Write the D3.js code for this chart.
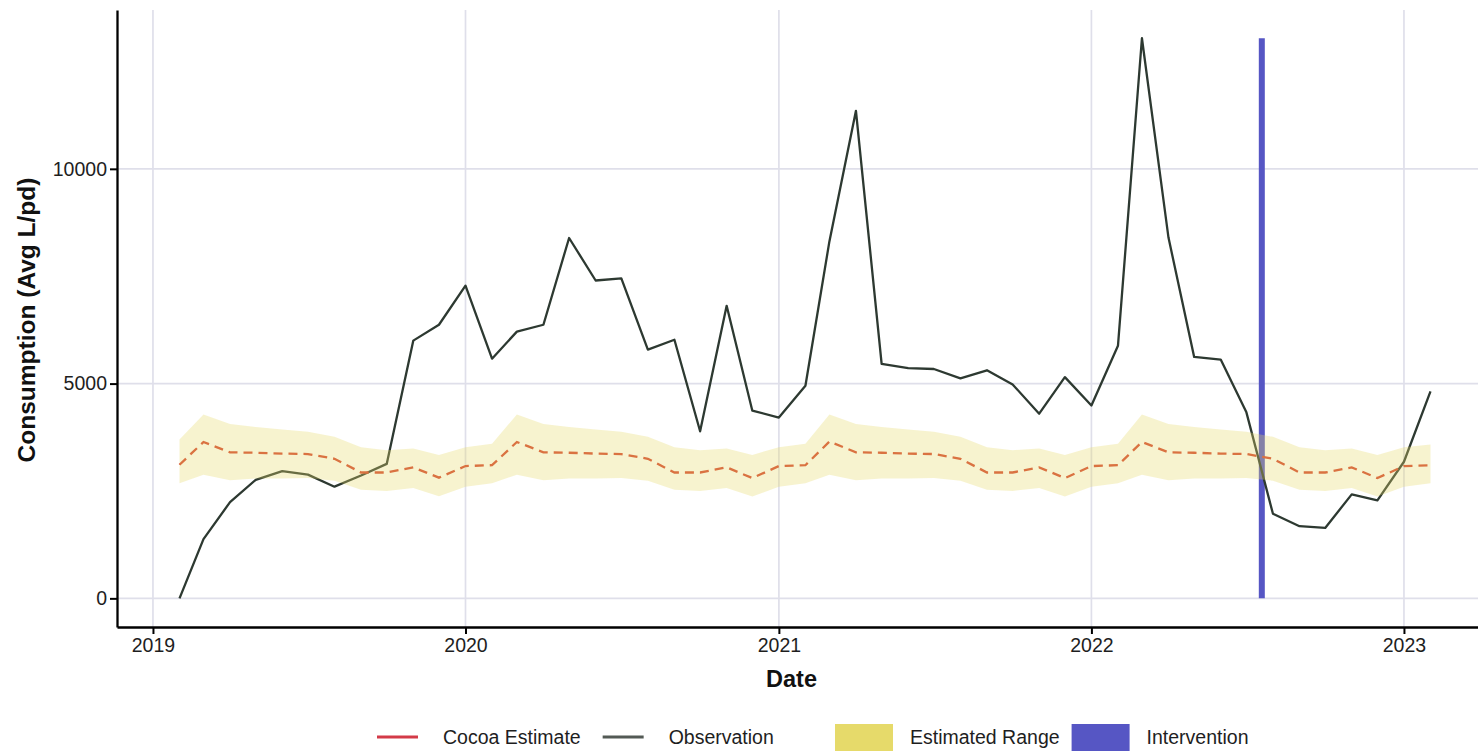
<!DOCTYPE html>
<html>
<head>
<meta charset="utf-8">
<script src="https://cdn.jsdelivr.net/npm/d3@7"></script>
<style>
  body { margin: 0; background: #ffffff; }
  svg { display: block; }
  text { font-family: "Liberation Sans", Arial, Helvetica, sans-serif; }
</style>
</head>
<body>
<svg id="chart" width="1478" height="751"></svg>
<script>
// Monthly series, Feb 2019 – Feb 2023 (49 months)
const firstMonth = new Date(Date.UTC(2019, 1, 1));
const lastMonth = new Date(Date.UTC(2023, 1, 1));

// Observed consumption (Avg L/pd)
const observation = [
  0, 1380, 2240, 2760, 2960, 2880, 2600, 2860, 3130, 6000, 6370,
  7280, 5580, 6210, 6370, 8390, 7400, 7450, 5790, 6020, 3890, 6810, 4370,
  4210, 4950, 8310, 11350, 5460, 5360, 5340, 5120, 5310, 4980, 4300, 5150,
  4490, 5880, 13040, 8400, 5620, 5560, 4330, 1970, 1680, 1640, 2420, 2280,
  3180, 4820
];

// Cocoa model estimate
const estimate = [
  3110, 3640, 3400, 3390, 3370, 3360, 3250, 2930, 2930, 3050, 2810,
  3080, 3100, 3640, 3400, 3390, 3370, 3360, 3250, 2930, 2930, 3050, 2800,
  3080, 3100, 3650, 3400, 3390, 3370, 3360, 3250, 2930, 2930, 3050, 2800,
  3080, 3100, 3640, 3400, 3390, 3370, 3360, 3250, 2930, 2930, 3050, 2800,
  3080, 3100
];

// Estimated range (lower / upper bounds)
const rangeLow = [
  2680, 2880, 2750, 2790, 2790, 2800, 2740, 2530, 2500, 2570, 2380,
  2600, 2680, 2880, 2750, 2790, 2790, 2800, 2740, 2530, 2500, 2570, 2370,
  2600, 2680, 2880, 2750, 2790, 2790, 2800, 2740, 2530, 2500, 2570, 2370,
  2600, 2680, 2880, 2750, 2790, 2790, 2800, 2740, 2530, 2500, 2570, 2370,
  2600, 2680
];
const rangeHigh = [
  3700, 4280, 4060, 3990, 3930, 3880, 3760, 3520, 3450, 3490, 3340,
  3520, 3600, 4280, 4060, 3990, 3930, 3880, 3760, 3520, 3450, 3490, 3340,
  3520, 3600, 4280, 4060, 3990, 3930, 3880, 3760, 3520, 3450, 3490, 3340,
  3520, 3600, 4280, 4060, 3990, 3930, 3880, 3760, 3520, 3450, 3490, 3340,
  3520, 3580
];

const interventionDate = new Date(Date.UTC(2022, 6, 19));
const yTickValues = [0, 5000, 10000];
const xTickYears = [2019, 2020, 2021, 2022, 2023];

const months = d3.utcMonth.range(firstMonth, d3.utcMonth.offset(lastMonth, 1));
const rows = months.map((d, i) => ({
  date: d, obs: observation[i], est: estimate[i], lo: rangeLow[i], hi: rangeHigh[i]
}));

const colors = {
  estimate: "#d4412e",
  estimateKey: "#d33a48",
  observation: "#2d3931",
  observationKey: "#535a55",
  range: "#e6da6a",
  intervention: "#5656c4",
  grid: "#dfdfea",
  axis: "#000000",
  text: "#1e1e1e"
};

const svg = d3.select("#chart");
const W = 1478;
const panel = { left: 117, top: 10, bottom: 627 };

const x = d3.scaleUtc()
  .domain([new Date(Date.UTC(2018, 10, 20)), new Date(Date.UTC(2023, 3, 15))])
  .range([panel.left, 1493]);
const y = d3.scaleLinear()
  .domain([-667, 13698])
  .range([panel.bottom, panel.top]);

const yearDates = xTickYears.map(yr => new Date(Date.UTC(yr, 0, 1)));

// Grid
const grid = svg.append("g");
grid.selectAll("line.h").data(yTickValues).join("line")
  .attr("x1", panel.left).attr("x2", W)
  .attr("y1", d => y(d)).attr("y2", d => y(d))
  .attr("stroke", colors.grid).attr("stroke-width", 1.7);
grid.selectAll("line.v").data(yearDates).join("line")
  .attr("x1", d => x(d)).attr("x2", d => x(d))
  .attr("y1", panel.top).attr("y2", panel.bottom)
  .attr("stroke", colors.grid).attr("stroke-width", 1.7);

// Intervention marker
svg.append("line")
  .attr("x1", x(interventionDate)).attr("x2", x(interventionDate))
  .attr("y1", y(0)).attr("y2", y(d3.max(observation)))
  .attr("stroke", colors.intervention).attr("stroke-width", 6);

// Observation line
svg.append("path").datum(rows)
  .attr("fill", "none")
  .attr("stroke", colors.observation)
  .attr("stroke-width", 2.3)
  .attr("stroke-linejoin", "round")
  .attr("d", d3.line().x(d => x(d.date)).y(d => y(d.obs)));

// Estimate (dashed)
svg.append("path").datum(rows)
  .attr("fill", "none")
  .attr("stroke", colors.estimate)
  .attr("stroke-width", 2.3)
  .attr("stroke-dasharray", "9,6")
  .attr("d", d3.line().x(d => x(d.date)).y(d => y(d.est)));

// Estimated range band
svg.append("path").datum(rows)
  .attr("fill", colors.range)
  .attr("fill-opacity", 0.32)
  .attr("d", d3.area().x(d => x(d.date)).y0(d => y(d.lo)).y1(d => y(d.hi)));

// Axes
const yAxis = svg.append("g")
  .attr("transform", `translate(${panel.left},0)`)
  .call(d3.axisLeft(y).tickValues(yTickValues).tickFormat(d3.format("d")).tickSize(7).tickPadding(3).tickSizeOuter(0));
const xAxis = svg.append("g")
  .attr("transform", `translate(0,${panel.bottom})`)
  .call(d3.axisBottom(x).tickValues(yearDates).tickFormat(d3.utcFormat("%Y")).tickSize(7).tickPadding(4).tickSizeOuter(0));

[yAxis, xAxis].forEach(g => {
  g.select(".domain").attr("stroke", colors.axis).attr("stroke-width", 2.3);
  g.selectAll(".tick line").attr("stroke", colors.axis).attr("stroke-width", 2);
  g.selectAll(".tick text").attr("fill", colors.text).attr("font-size", 19.5)
    .attr("font-family", "'Liberation Sans', Arial, sans-serif");
});

// Axis titles
svg.append("text")
  .attr("x", (panel.left + W) / 2 - 6).attr("y", 687)
  .attr("text-anchor", "middle")
  .attr("font-size", 23.5).attr("font-weight", "bold").attr("fill", "#111")
  .text("Date");
svg.append("text")
  .attr("transform", "translate(35,320) rotate(-90)")
  .attr("text-anchor", "middle")
  .attr("font-size", 24.5).attr("font-weight", "bold").attr("fill", "#111")
  .text("Consumption (Avg L/pd)");

// Legend
const legendY = 737;
const lineItems = [
  { label: "Cocoa Estimate", color: colors.estimateKey },
  { label: "Observation", color: colors.observationKey }
];
const fillItems = [
  { label: "Estimated Range", color: colors.range },
  { label: "Intervention", color: colors.intervention }
];

let lx = 377;
lineItems.forEach(item => {
  svg.append("line")
    .attr("x1", lx).attr("x2", lx + 41)
    .attr("y1", legendY).attr("y2", legendY)
    .attr("stroke", item.color).attr("stroke-width", 2.8);
  const t = svg.append("text")
    .attr("x", lx + 66).attr("y", legendY).attr("dy", "0.35em")
    .attr("font-size", 19.5).attr("fill", colors.text)
    .text(item.label);
  lx += 66 + t.node().getComputedTextLength() + 22;
});

let fx = 835;
fillItems.forEach(item => {
  svg.append("rect")
    .attr("x", fx).attr("y", 724).attr("width", 58).attr("height", 30)
    .attr("fill", item.color);
  const t = svg.append("text")
    .attr("x", fx + 75).attr("y", legendY).attr("dy", "0.35em")
    .attr("font-size", 19.5).attr("fill", colors.text)
    .text(item.label);
  fx += 75 + t.node().getComputedTextLength() + 12;
});
</script>
</body>
</html>
